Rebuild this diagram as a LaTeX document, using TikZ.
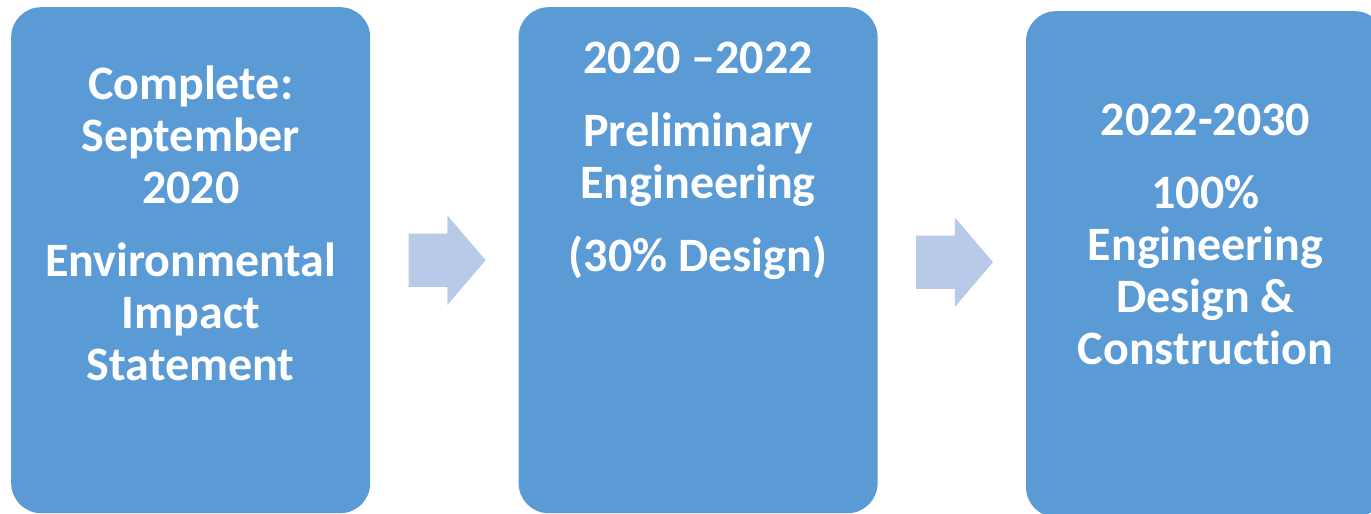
\documentclass[tikz,border=0pt]{standalone}
\usepackage{fontspec}
\setmainfont{Carlito}[Ligatures={TeX,NoCommon}]
\usepackage{tikz}
\usetikzlibrary{positioning}
\usetikzlibrary{shapes,shapes.arrows}
\definecolor{phaseblue}{HTML}{5B9BD5}
\definecolor{arrowblue}{HTML}{B7CBE8}
\tikzset{phase/.style={
        rectangle, 
        fill=phaseblue, 
        rounded corners=30pt, 
        minimum width=359pt, 
        minimum height=506pt,  
        inner sep=0pt } }
\tikzset{phasetext/.style={
        text=white, 
        align=center, 
        anchor=base, 
        inner sep=0pt, 
        font=\fontsize{48}{52}\selectfont\bfseries } }
\tikzset{flowarrow/.style={
        single arrow, 
        fill=arrowblue, 
        minimum height=77pt, 
        inner xsep=0pt, 
        inner ysep=26.5pt, 
        single arrow head extend=18pt, 
        single arrow tip angle=99 } }

\begin{document}
\begin{tikzpicture}[x=1pt,y=-1pt]

\useasboundingbox (0,0) rectangle (1371,514);
\clip (0,0) rectangle (1371,514);

%%BOXES
\node[phase, anchor=north west] (eis) at (11,7) {}; 
\node[phase] (prelim) [right = 148pt of eis] {}; 
\node[phase] (final) [right = 148pt of prelim, yshift=-4pt] {}; 

%%ARROWS between boxes
\node[flowarrow] (arr1) [right = 38pt of eis.east, anchor=west] {}; 
\node[flowarrow] (arr2) [right = 38pt of prelim.east, anchor=west, yshift=-2pt] {}; 

%%TEXTS (base = last line)
\node[phasetext] (eistext) at ([yshift=-373pt]eis.north) 
{Complete:\\September\\2020\\[21pt]Environmental\\Impact\\Statement}; 
\node[phasetext] (prelimtext) at ([yshift=-264pt]prelim.north) 
{2020 --2022\\[21pt]Preliminary\\Engineering\\[21pt](30\% Design)}; 
\node[phasetext] (finaltext) at ([yshift=-353pt]final.north) 
{2022-2030\\[21pt]100\%\\Engineering\\Design \&\\Construction}; 

\end{tikzpicture}
\end{document}
